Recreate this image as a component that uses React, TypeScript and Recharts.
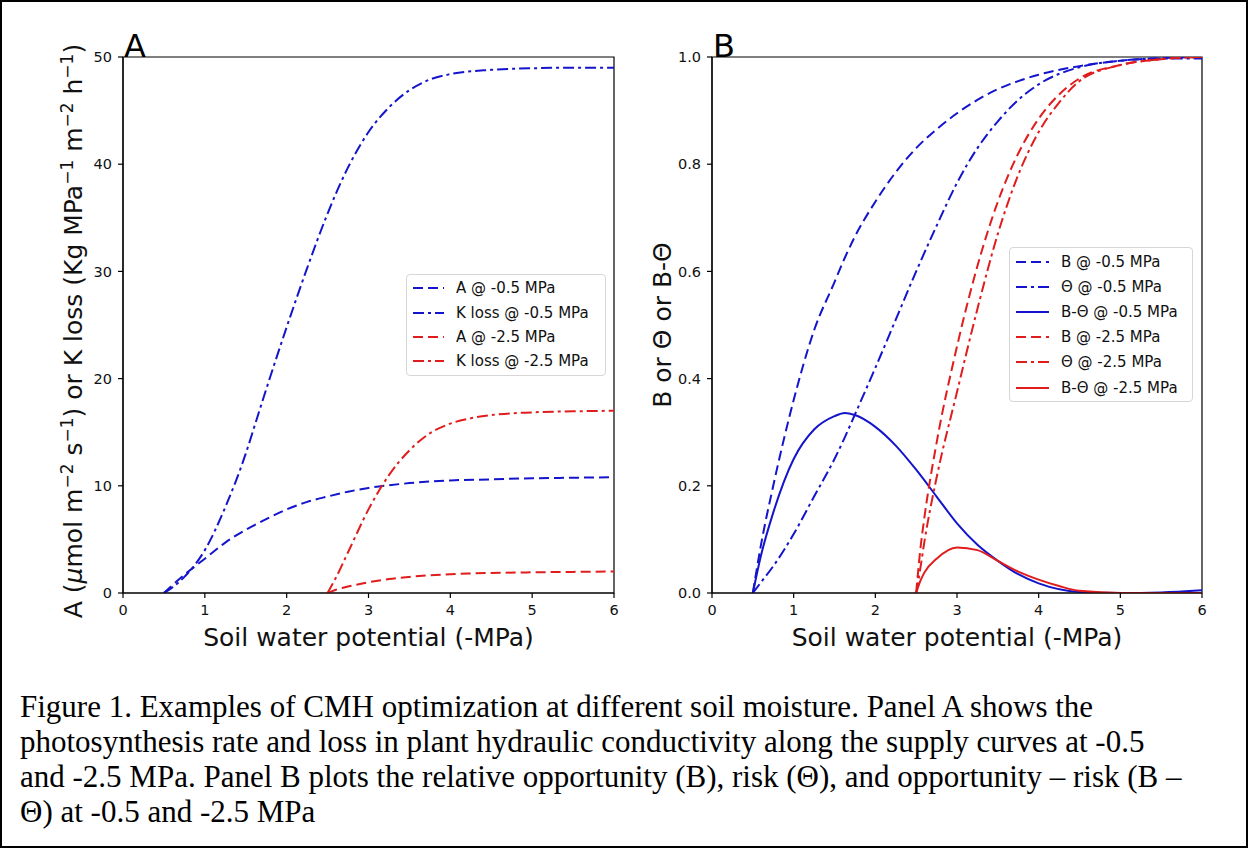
import React from 'react'
import { LineChart, Line, XAxis, YAxis, ReferenceArea, Label } from 'recharts'

// x grids (soil water potential, -MPa)
const X_LOW = [0.5, 0.6, 0.75, 1, 1.25, 1.5, 1.625, 1.75, 2, 2.25, 2.5, 2.75, 3, 3.25, 3.5, 3.75, 4, 4.5, 5, 5.5, 6]
const X_HIGH = [2.5, 2.55, 2.6, 2.75, 3, 3.25, 3.5, 3.75, 4, 4.25, 4.5, 5, 5.5, 6]

// panel A
const A_05 = [0, 0.7, 1.7, 3.2, 4.7, 5.9, 6.4, 6.9, 7.8, 8.5, 9.0, 9.45, 9.8, 10.05, 10.25, 10.4, 10.5, 10.6, 10.7, 10.75, 10.8]
const KLOSS_05 = [0, 0.5, 1.5, 4.0, 8.0, 13, 16, 19, 24.8, 30.3, 35.4, 39.7, 43, 45.3, 46.9, 47.9, 48.4, 48.8, 48.95, 49, 49]
const A_25 = [0, 0.15, 0.3, 0.6, 1.0, 1.3, 1.5, 1.65, 1.75, 1.82, 1.87, 1.93, 1.97, 2.0]
const KLOSS_25 = [0, 0.7, 1.4, 3.8, 7.8, 11, 13.3, 14.9, 15.8, 16.3, 16.6, 16.85, 16.95, 17]

// panel B
const B_05 = [0, 0.09, 0.2, 0.36, 0.49, 0.58, 0.625, 0.665, 0.73, 0.785, 0.83, 0.865, 0.895, 0.92, 0.94, 0.955, 0.967, 0.983, 0.993, 0.998, 1.0]
const THETA_05 = [0, 0.02, 0.05, 0.11, 0.18, 0.25, 0.29, 0.333, 0.42, 0.51, 0.6, 0.685, 0.765, 0.83, 0.88, 0.92, 0.949, 0.981, 0.993, 0.997, 0.997]
const BT_05 = [0, 0.07, 0.15, 0.25, 0.305, 0.33, 0.336, 0.332, 0.31, 0.275, 0.23, 0.18, 0.13, 0.09, 0.06, 0.035, 0.018, 0.002, 0, 0.001, 0.005]
const B_25 = [0, 0.08, 0.14, 0.28, 0.46, 0.61, 0.73, 0.82, 0.885, 0.93, 0.96, 0.985, 0.996, 1.0]
const THETA_25 = [0, 0.045, 0.095, 0.215, 0.375, 0.53, 0.67, 0.78, 0.86, 0.915, 0.955, 0.985, 0.996, 1.0]
const BT_25 = [0, 0.022, 0.038, 0.064, 0.085, 0.08, 0.06, 0.04, 0.025, 0.013, 0.004, 0, 0, 0]

const X_TICKS = [0, 1, 2, 3, 4, 5, 6]
const A_TICKS = [0, 10, 20, 30, 40, 50]
const B_TICKS = [0, 0.2, 0.4, 0.6, 0.8, 1.0]

const BLUE = '#1414cc'
const RED = '#e01c1c'
const DASH = '10 5'
const DASHDOT = '11 4 3 4'
const FONT = '"DejaVu Sans", sans-serif'

type Series = { name: string; xs: number[]; ys: number[]; color: string; dash?: string }

const seriesA: Series[] = [
  { name: 'A @ -0.5 MPa', xs: X_LOW, ys: A_05, color: BLUE, dash: DASH },
  { name: 'K loss @ -0.5 MPa', xs: X_LOW, ys: KLOSS_05, color: BLUE, dash: DASHDOT },
  { name: 'A @ -2.5 MPa', xs: X_HIGH, ys: A_25, color: RED, dash: DASH },
  { name: 'K loss @ -2.5 MPa', xs: X_HIGH, ys: KLOSS_25, color: RED, dash: DASHDOT }
]

const seriesB: Series[] = [
  { name: 'B @ -0.5 MPa', xs: X_LOW, ys: B_05, color: BLUE, dash: DASH },
  { name: 'Θ @ -0.5 MPa', xs: X_LOW, ys: THETA_05, color: BLUE, dash: DASHDOT },
  { name: 'B-Θ @ -0.5 MPa', xs: X_LOW, ys: BT_05, color: BLUE },
  { name: 'B @ -2.5 MPa', xs: X_HIGH, ys: B_25, color: RED, dash: DASH },
  { name: 'Θ @ -2.5 MPa', xs: X_HIGH, ys: THETA_25, color: RED, dash: DASHDOT },
  { name: 'B-Θ @ -2.5 MPa', xs: X_HIGH, ys: BT_25, color: RED }
]

const toPoints = (s: Series) => s.xs.map((x, i) => ({ x, y: s.ys[i] }))

const tickStyle = { fill: '#111', fontSize: 14.5, fontFamily: FONT }
const axisLine = { stroke: '#000', strokeWidth: 1.2 }

const LegendBox = ({ items, left, top, width, rowH, handleW }: { items: Series[]; left: number; top: number; width: number; rowH: number; handleW: number }) => (
  <div
    style={{
      position: 'absolute',
      left,
      top,
      width,
      border: '1px solid #d6d6d6',
      borderRadius: 4,
      background: 'rgba(255,255,255,0.85)',
      padding: '1px 0',
      fontFamily: FONT,
      fontSize: 15,
      color: '#111'
    }}
  >
    {items.map(s => (
      <div key={s.name} style={{ height: rowH, display: 'flex', alignItems: 'center', whiteSpace: 'nowrap' }}>
        <svg width={handleW + 6} height={8} style={{ marginRight: 12 }}>
          <line x1={6} y1={4} x2={handleW + 6} y2={4} stroke={s.color} strokeWidth={2} strokeDasharray={s.dash} />
        </svg>
        <span>{s.name}</span>
      </div>
    ))}
  </div>
)

const XLabel = ({ viewBox }: any) => (
  <text
    x={viewBox.x + viewBox.width / 2}
    y={viewBox.y + 53}
    textAnchor="middle"
    fontFamily={FONT}
    fontSize={25}
    fill="#111"
  >
    Soil water potential (-MPa)
  </text>
)

const YLabelA = ({ viewBox }: any) => {
  const bx = viewBox.x + viewBox.width - 41
  const cy = viewBox.y + viewBox.height / 2 + 6
  return (
    <text transform={`translate(${bx},${cy}) rotate(-90)`} textAnchor="middle" fontFamily={FONT} fontSize={25} fill="#111">
      <tspan>A (</tspan>
      <tspan fontStyle="italic">μ</tspan>
      <tspan>mol m</tspan>
      <tspan dy={-9} fontSize={17}>−2</tspan>
      <tspan dy={9}> s</tspan>
      <tspan dy={-9} fontSize={17}>−1</tspan>
      <tspan dy={9}>) or K loss (Kg MPa</tspan>
      <tspan dy={-9} fontSize={17}>−1</tspan>
      <tspan dy={9}> m</tspan>
      <tspan dy={-9} fontSize={17}>−2</tspan>
      <tspan dy={9}> h</tspan>
      <tspan dy={-9} fontSize={17}>−1</tspan>
      <tspan dy={9}>)</tspan>
    </text>
  )
}

const YLabelB = ({ viewBox }: any) => {
  const bx = viewBox.x + viewBox.width - 41
  const cy = viewBox.y + viewBox.height / 2
  return (
    <text transform={`translate(${bx},${cy}) rotate(-90)`} textAnchor="middle" fontFamily={FONT} fontSize={25} fill="#111">
      B or Θ or B-Θ
    </text>
  )
}

const PanelLetter = ({ viewBox, letter }: any) => (
  <text x={viewBox.x + 1} y={viewBox.y} fontFamily={FONT} fontSize={32} fill="#000">
    {letter}
  </text>
)

interface PanelProps {
  series: Series[]
  yMax: number
  yTicks: number[]
  letter: string
  width: number
  marginLeft: number
  marginRight: number
  yLabel: React.ReactElement
  yFormat?: (v: number) => string
}

const Panel = (p: PanelProps) => (
  <LineChart
    width={p.width}
    height={680}
    margin={{ top: 57, right: p.marginRight, bottom: 27, left: p.marginLeft }}
  >
    <XAxis
      dataKey="x"
      type="number"
      domain={[0, 6]}
      ticks={X_TICKS}
      allowDataOverflow
      tick={tickStyle}
      tickSize={5}
      tickMargin={7}
      height={60}
      axisLine={axisLine}
      tickLine={axisLine}
      label={<XLabel />}
    />
    <YAxis
      type="number"
      domain={[0, p.yMax]}
      ticks={p.yTicks}
      allowDataOverflow
      tick={tickStyle}
      tickSize={5}
      tickMargin={6}
      width={60}
      axisLine={axisLine}
      tickLine={axisLine}
      tickFormatter={p.yFormat}
      label={p.yLabel}
    />
    <ReferenceArea x1={0} x2={6} y1={0} y2={p.yMax} fill="none" stroke="#000" strokeWidth={1.2} ifOverflow="visible">
      <Label content={<PanelLetter letter={p.letter} />} />
    </ReferenceArea>
    {p.series.map(s => (
      <Line
        key={s.name}
        data={toPoints(s)}
        dataKey="y"
        name={s.name}
        type="monotone"
        stroke={s.color}
        strokeWidth={2}
        strokeDasharray={s.dash}
        dot={false}
        activeDot={false}
        isAnimationActive={false}
      />
    ))}
  </LineChart>
)

const CAPTION = [
  'Figure 1. Examples of CMH optimization at different soil moisture. Panel A shows the',
  'photosynthesis rate and loss in plant hydraulic conductivity along the supply curves at -0.5',
  'and -2.5 MPa. Panel B plots the relative opportunity (B), risk (Θ), and opportunity – risk (B –',
  'Θ) at -0.5 and -2.5 MPa'
]

export default function App() {
  return (
    <div style={{ position: 'absolute', left: 0, top: 0, width: 1248, height: 848, background: '#fff', overflow: 'hidden' }}>
      <div style={{ position: 'absolute', left: 0, top: 0 }}>
        <Panel
          series={seriesA}
          yMax={50}
          yTicks={A_TICKS}
          letter="A"
          width={640}
          marginLeft={63}
          marginRight={26}
          yLabel={<YLabelA />}
        />
      </div>
      <div style={{ position: 'absolute', left: 640, top: 0 }}>
        <Panel
          series={seriesB}
          yMax={1}
          yTicks={B_TICKS}
          letter="B"
          width={608}
          marginLeft={12}
          marginRight={46}
          yLabel={<YLabelB />}
          yFormat={(v: number) => v.toFixed(1)}
        />
      </div>
      <LegendBox items={seriesA} left={406} top={274} width={198} rowH={24.4} handleW={31} />
      <LegendBox items={seriesB} left={1009} top={247} width={182} rowH={25.2} handleW={33} />
      <div
        style={{
          position: 'absolute',
          left: 20,
          top: 689,
          fontFamily: '"Liberation Serif", "Times New Roman", serif',
          fontSize: 31,
          lineHeight: '35px',
          color: '#000'
        }}
      >
        {CAPTION.map(line => (
          <div key={line} style={{ whiteSpace: 'nowrap' }}>{line}</div>
        ))}
      </div>
      <div
        style={{
          position: 'absolute',
          left: 0,
          top: 0,
          width: 1248,
          height: 848,
          boxSizing: 'border-box',
          border: '2px solid #000',
          pointerEvents: 'none'
        }}
      />
    </div>
  )
}
